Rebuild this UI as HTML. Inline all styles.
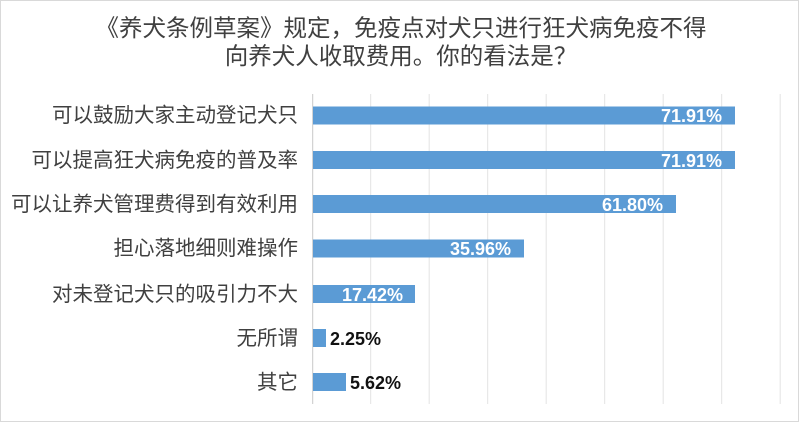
<!DOCTYPE html><html><head><meta charset="utf-8"><style>
body{margin:0;background:#fff}
</style></head><body>
<svg width="800" height="423" xmlns="http://www.w3.org/2000/svg" style="display:block;font-family:'Liberation Sans','Noto Sans CJK SC',sans-serif">
<rect x="0.5" y="0.5" width="798" height="421" fill="#fff" stroke="#d9d9d9"/>
<text x="401" y="36" text-anchor="middle" font-size="23.5" fill="#404040">《养犬条例草案》规定，免疫点对犬只进行狂犬病免疫不得</text>
<text x="401" y="64" text-anchor="middle" font-size="23.5" fill="#404040">向养犬人收取费用。你的看法是？</text>
<g stroke="#e3e3e3" stroke-width="1">
<line x1="370.7" y1="94" x2="370.7" y2="404"/><line x1="429.2" y1="94" x2="429.2" y2="404"/>
<line x1="487.7" y1="94" x2="487.7" y2="404"/><line x1="546.2" y1="94" x2="546.2" y2="404"/>
<line x1="604.7" y1="94" x2="604.7" y2="404"/><line x1="663.2" y1="94" x2="663.2" y2="404"/>
<line x1="721.7" y1="94" x2="721.7" y2="404"/><line x1="780.2" y1="94" x2="780.2" y2="404"/>
<line x1="312.7" y1="94" x2="312.7" y2="404" stroke="#c8c8c8"/>
</g>
<g fill="#5b9bd5">
<rect x="313" y="106.5" width="422" height="18"/>
<rect x="313" y="151" width="422" height="18"/>
<rect x="313" y="195" width="363" height="18"/>
<rect x="313" y="239.5" width="211" height="18"/>
<rect x="313" y="285" width="102" height="18"/>
<rect x="313" y="329" width="13" height="18"/>
<rect x="313" y="373" width="33" height="18"/>
</g>
<g font-size="20.5" fill="#404040" text-anchor="end">
<text x="298" y="122">可以鼓励大家主动登记犬只</text>
<text x="298" y="167">可以提高狂犬病免疫的普及率</text>
<text x="298" y="211">可以让养犬管理费得到有效利用</text>
<text x="298" y="255">担心落地细则难操作</text>
<text x="298" y="301">对未登记犬只的吸引力不大</text>
<text x="298" y="345">无所谓</text>
<text x="298" y="389">其它</text>
</g>
<g font-size="18" font-weight="bold" fill="#fff" text-anchor="end">
<text x="722" y="122">71.91%</text>
<text x="722" y="167">71.91%</text>
<text x="663" y="211">61.80%</text>
<text x="511" y="255">35.96%</text>
<text x="403" y="301">17.42%</text>
</g>
<g font-size="18" font-weight="bold" fill="#111">
<text x="330" y="345">2.25%</text>
<text x="350" y="389">5.62%</text>
</g>
</svg>
</body></html>
